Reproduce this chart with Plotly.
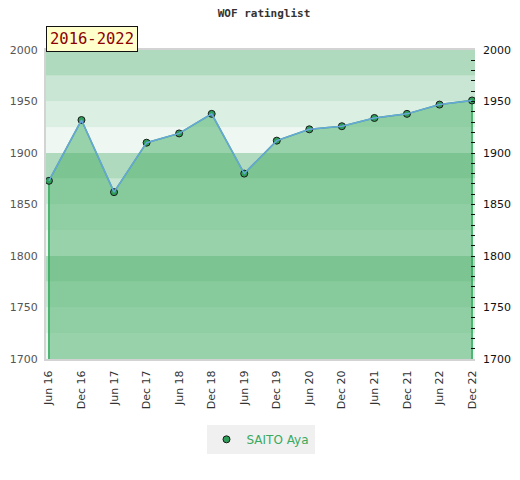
import plotly.graph_objects as go

periods = ["Jun 16", "Dec 16", "Jun 17", "Dec 17", "Jun 18", "Dec 18", "Jun 19",
           "Dec 19", "Jun 20", "Dec 20", "Jun 21", "Dec 21", "Jun 22", "Dec 22"]
ratings = [1873, 1932, 1862, 1910, 1919, 1938, 1880,
           1912, 1923, 1926, 1934, 1938, 1947, 1951]
player = "SAITO Aya"
badge = "2016-2022"
title = "WOF ratinglist"
y_min, y_max = 1700, 2000

band_colors = ["#afdabd", "#c8e6d3", "#dcefe3", "#eef7f1"]

fig = go.Figure()

# area polygon (green outline incl. vertical edges)
fig.add_trace(go.Scatter(
    x=[periods[0]] + periods + [periods[-1]],
    y=[y_min] + ratings + [y_min],
    mode="lines", fill="toself",
    fillcolor="rgba(82,180,112,0.55)",
    line=dict(color="#2fa85a", width=1.5),
    hoverinfo="skip", showlegend=False))

# blue top line
fig.add_trace(go.Scatter(
    x=periods, y=ratings, mode="lines",
    line=dict(color="#6aa6de", width=1.5),
    hoverinfo="skip", showlegend=False, yaxis="y2"))

# markers
fig.add_trace(go.Scatter(
    x=periods, y=ratings, mode="markers", name=player,
    marker=dict(color="#2e9e58", size=7, line=dict(color="#1a1a1a", width=1)),
    showlegend=True))

shapes = []
v = y_min
i = 0
while v < y_max:
    shapes.append(dict(type="rect", xref="paper", yref="y", x0=0, x1=1,
                       y0=v, y1=v + 25,
                       fillcolor=band_colors[3 - (i % 4)], line=dict(width=0),
                       layer="below"))
    v += 25
    i += 1

fig.update_layout(
    width=512, height=472,
    margin=dict(l=38, r=45, t=42, b=121, autoexpand=False),
    paper_bgcolor="white", plot_bgcolor="white",
    shapes=shapes,
    title=dict(text="<b>" + title + "</b>", x=0.5, xanchor="center", y=0.989, yanchor="middle",
               font=dict(family="DejaVu Sans Mono", size=11, color="#333")),
    xaxis=dict(type="category", range=[-0.09, 13.09], tickangle=-90,
               showgrid=False, zeroline=False, ticks="", automargin=False,
               ticklabelstandoff=5,
               showline=True, linecolor="#d3d3d3", linewidth=2, mirror=True,
               tickfont=dict(family="DejaVu Sans", size=11, color="#333")),
    yaxis=dict(range=[y_min, y_max], dtick=50, showgrid=False, zeroline=False,
               ticks="", showline=True, linecolor="#d3d3d3", linewidth=2,
               automargin=False, ticklabelstandoff=4,
               tickfont=dict(family="DejaVu Sans", size=11, color="#555")),
    yaxis2=dict(range=[y_min, y_max], dtick=50, overlaying="y", side="right",
                showgrid=False, zeroline=False, ticks="inside", ticklen=4,
                tickcolor="#111", showline=False, automargin=False,
                ticklabelstandoff=7,
                minor=dict(dtick=10, ticks="inside", ticklen=4, tickcolor="#111"),
                tickfont=dict(family="DejaVu Sans", size=11, color="#111")),
    legend=dict(orientation="h", x=0.5, xanchor="center", y=-0.213, yanchor="top",
                bgcolor="#f0f0f0",
                font=dict(family="DejaVu Sans", size=12, color="#3aaa60")),
    annotations=[dict(text=badge, xref="paper", yref="paper", x=0, y=1.0,
                      xanchor="left", yanchor="bottom", showarrow=False, yshift=-2,
                      bgcolor="#ffffcc", bordercolor="#111", borderwidth=1,
                      borderpad=3,
                      font=dict(family="DejaVu Sans Mono", size=15.5, color="#8b0000"))],
)

fig.write_html("out.html")
